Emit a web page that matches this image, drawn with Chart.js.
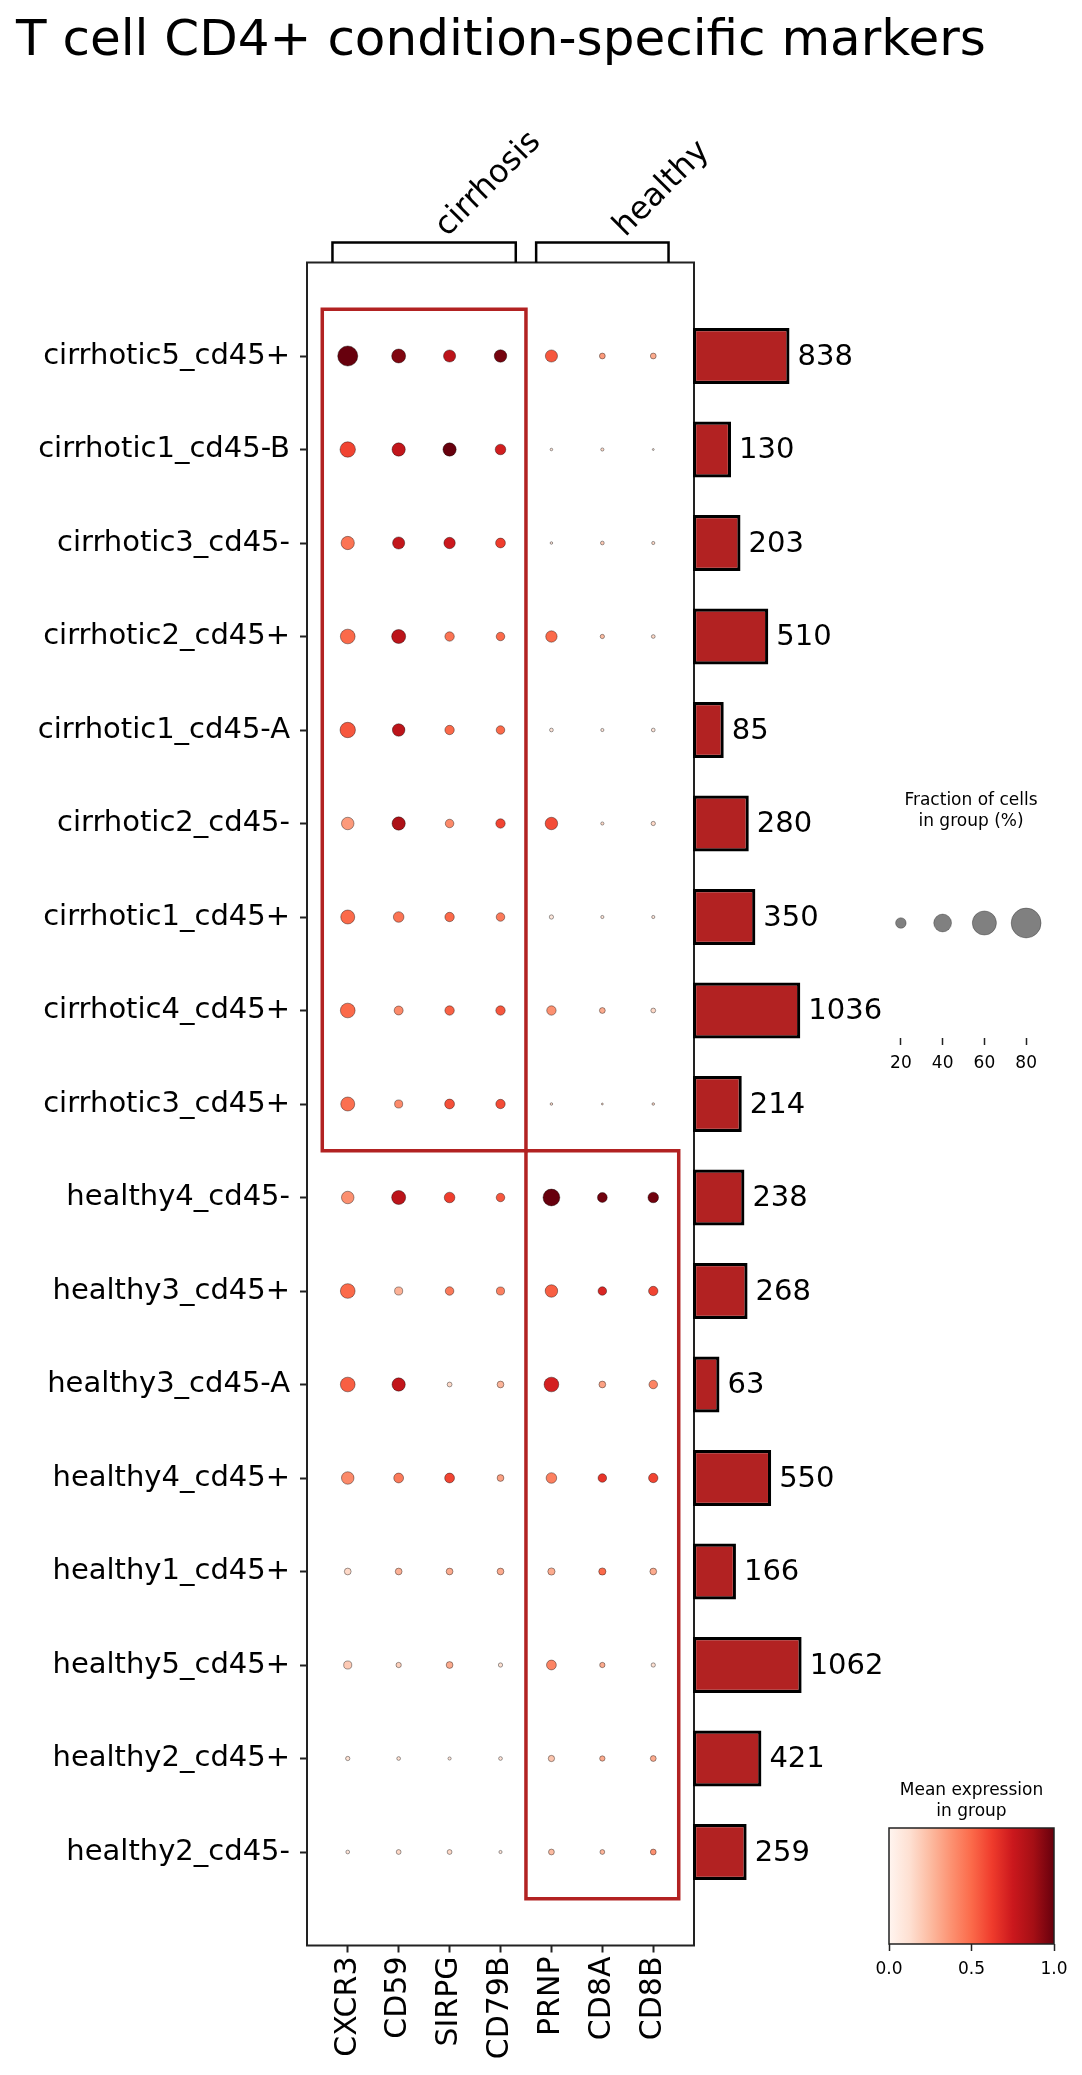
<!DOCTYPE html>
<html lang="en">
<head>
    <meta charset="UTF-8">
    <title>T cell CD4+ condition-specific markers</title>
    <style>
        body {
            margin: 0;
            background: #fff;
            font-family: "DejaVu Sans", sans-serif;
        }

        .page {
            position: relative;
            width: 1082px;
            height: 2075px;
        }

        .page canvas {
            position: absolute;
            left: 0;
            top: 0;
        }

        h1 {
            position: absolute;
            left: 16px;
            top: 13px;
            margin: 0;
            font-size: 50px;
            font-weight: normal;
            line-height: 50px;
            white-space: nowrap;
            color: #000;
        }
    </style>
</head>
<body>

<div class="page">
    <h1>T cell CD4+ condition-specific markers</h1>
    <canvas id="dots" width="1082" height="2075"></canvas>
    <canvas id="bars" width="1082" height="2075"></canvas>
    <canvas id="sizeLegend" width="1082" height="2075"></canvas>
    <canvas id="colorbar" width="1082" height="2075"></canvas>
</div>

<script src="https://cdn.jsdelivr.net/npm/chart.js"></script>
<script>
    // groups (rows), top to bottom
    const groups = [
        'cirrhotic5_cd45+', 'cirrhotic1_cd45-B', 'cirrhotic3_cd45-', 'cirrhotic2_cd45+',
        'cirrhotic1_cd45-A', 'cirrhotic2_cd45-', 'cirrhotic1_cd45+', 'cirrhotic4_cd45+',
        'cirrhotic3_cd45+', 'healthy4_cd45-', 'healthy3_cd45+', 'healthy3_cd45-A',
        'healthy4_cd45+', 'healthy1_cd45+', 'healthy5_cd45+', 'healthy2_cd45+', 'healthy2_cd45-'
    ];
    const genes = ['CXCR3', 'CD59', 'SIRPG', 'CD79B', 'PRNP', 'CD8A', 'CD8B'];
    const cellCounts = [838, 130, 203, 510, 85, 280, 350, 1036, 214, 238, 268, 63, 550, 166, 1062, 421, 259];

    // condition blocks: gene index range and group index range
    const conditions = ['cirrhosis', 'healthy'];
    const conditionGenes = [[0, 3], [4, 6]];
    const conditionGroups = [[0, 8], [9, 16]];

    // fraction of cells expressing (%), one row per group
    const fractionPct = [
        [47, 29, 24, 25, 24, 9, 9],
        [33, 27, 27, 20, 3, 4, 2],
        [27, 24, 22, 18, 3, 5, 4],
        [31, 29, 17, 15, 22, 6, 5],
        [33, 25, 17, 15, 5, 4, 5],
        [25, 27, 15, 17, 25, 4, 6],
        [29, 20, 17, 15, 6, 4, 4],
        [31, 16, 17, 17, 17, 9, 7],
        [29, 14, 18, 17, 3, 2, 3],
        [25, 29, 20, 15, 37, 18, 20],
        [31, 14, 15, 14, 25, 15, 17],
        [31, 27, 7, 11, 31, 11, 15],
        [25, 18, 18, 11, 20, 15, 17],
        [11, 11, 11, 11, 12, 12, 11],
        [14, 8, 11, 6, 18, 8, 6],
        [6, 5, 4, 5, 10, 8, 9],
        [5, 7, 7, 4, 9, 7, 9]
    ];

    // mean expression in group (scaled 0..1)
    const meanExpr = [
        [1.00, 0.95, 0.80, 0.97, 0.55, 0.35, 0.30],
        [0.60, 0.78, 1.00, 0.73, 0.10, 0.15, 0.10],
        [0.47, 0.78, 0.75, 0.62, 0.10, 0.20, 0.15],
        [0.50, 0.80, 0.47, 0.50, 0.50, 0.25, 0.15],
        [0.55, 0.80, 0.50, 0.50, 0.10, 0.10, 0.10],
        [0.35, 0.85, 0.40, 0.60, 0.58, 0.15, 0.15],
        [0.50, 0.47, 0.50, 0.45, 0.08, 0.10, 0.10],
        [0.50, 0.40, 0.52, 0.55, 0.38, 0.30, 0.15],
        [0.48, 0.40, 0.57, 0.58, 0.15, 0.15, 0.15],
        [0.38, 0.80, 0.62, 0.55, 1.00, 0.98, 0.98],
        [0.50, 0.28, 0.45, 0.43, 0.53, 0.70, 0.60],
        [0.53, 0.78, 0.15, 0.27, 0.72, 0.33, 0.42],
        [0.40, 0.45, 0.60, 0.33, 0.43, 0.65, 0.60],
        [0.15, 0.28, 0.30, 0.30, 0.30, 0.50, 0.30],
        [0.20, 0.18, 0.30, 0.12, 0.42, 0.30, 0.12],
        [0.12, 0.12, 0.10, 0.10, 0.22, 0.30, 0.30],
        [0.10, 0.15, 0.15, 0.10, 0.25, 0.27, 0.38]
    ];

    const sizeLegendPct = [20, 40, 60, 80];
    const colorbarTicks = [0, 0.5, 1];

    const FONT = '"DejaVu Sans", sans-serif';
    Chart.defaults.font.family = FONT;
    Chart.defaults.color = '#000';

    // matplotlib "Reds"
    const redsStops = ['#fff5f0', '#fee0d2', '#fcbba1', '#fc9272', '#fb6a4a', '#ef3b2c', '#cb181d', '#a50f15', '#67000d'];
    function hexRgb(h) {
        return [1, 3, 5].map(i => parseInt(h.slice(i, i + 2), 16));
    }
    function reds(t) {
        const p = Math.min(Math.max(t, 0), 1) * (redsStops.length - 1);
        const i = Math.min(Math.floor(p), redsStops.length - 2);
        const f = p - i;
        const a = hexRgb(redsStops[i]), b = hexRgb(redsStops[i + 1]);
        const c = a.map((v, k) => Math.round(v + (b[k] - v) * f));
        return `rgb(${c[0]}, ${c[1]}, ${c[2]})`;
    }

    // dot area grows with fraction^1.5, as in the scanpy dot plot
    const dotRadius = pct => 0.56 * Math.pow(pct, 0.75);

    // bar length axis with square-root spacing
    class SqrtScale extends Chart.LinearScale {
        getPixelForValue(value) {
            const a = Math.sqrt(Math.max(0, this.min));
            const b = Math.sqrt(this.max);
            return this.getPixelForDecimal((Math.sqrt(Math.max(0, value)) - a) / (b - a));
        }
        getValueForPixel(pixel) {
            const a = Math.sqrt(Math.max(0, this.min));
            const b = Math.sqrt(this.max);
            const s = a + this.getDecimalForPixel(pixel) * (b - a);
            return s * s;
        }
    }
    SqrtScale.id = 'sqrt';
    SqrtScale.defaults = Chart.LinearScale.defaults;
    Chart.register(SqrtScale);

    const tickGrid = {
        display: true,
        drawOnChartArea: false,
        drawTicks: true,
        tickLength: 7,
        tickWidth: 2,
        tickColor: '#222'
    };

    // ---------- dot plot ----------
    const dotPoints = [];
    const dotRadii = [];
    const dotColors = [];
    groups.forEach((g, r) => {
        genes.forEach((gene, c) => {
            dotPoints.push({ x: c, y: r });
            dotRadii.push(dotRadius(fractionPct[r][c]));
            dotColors.push(reds(meanExpr[r][c]));
        });
    });

    const dotDecor = {
        id: 'dotDecor',
        afterDatasetsDraw(chart) {
            const ctx = chart.ctx;
            const xs = chart.scales.x, ys = chart.scales.y;
            const { left, right, top, bottom } = chart.chartArea;
            ctx.save();

            // condition boxes
            ctx.strokeStyle = '#b22222';
            ctx.lineWidth = 3.5;
            conditions.forEach((name, k) => {
                const x0 = xs.getPixelForValue(conditionGenes[k][0] - 0.5);
                const x1 = xs.getPixelForValue(conditionGenes[k][1] + 0.5);
                const y0 = ys.getPixelForValue(conditionGroups[k][0] - 0.5);
                const y1 = ys.getPixelForValue(conditionGroups[k][1] + 0.5);
                ctx.strokeRect(x0, y0, x1 - x0, y1 - y0);
            });

            // frame
            ctx.strokeStyle = '#222';
            ctx.lineWidth = 2;
            ctx.strokeRect(left, top, right - left, bottom - top);

            // brackets + labels above the plot
            const yTop = top - 20;
            ctx.strokeStyle = '#000';
            ctx.lineWidth = 2.5;
            ctx.fillStyle = '#000';
            ctx.font = '32px ' + FONT;
            ctx.textAlign = 'left';
            ctx.textBaseline = 'alphabetic';
            conditions.forEach((name, k) => {
                const x0 = xs.getPixelForValue(conditionGenes[k][0] - 0.3);
                const x1 = xs.getPixelForValue(conditionGenes[k][1] + 0.3);
                ctx.beginPath();
                ctx.moveTo(x0, top);
                ctx.lineTo(x0, yTop);
                ctx.lineTo(x1, yTop);
                ctx.lineTo(x1, top);
                ctx.stroke();

                const xc = xs.getPixelForValue((conditionGenes[k][0] + conditionGenes[k][1]) / 2);
                ctx.save();
                ctx.translate(xc + 23, yTop - 5);
                ctx.rotate(-Math.PI / 4);
                ctx.fillText(name, 0, 0);
                ctx.restore();
            });
            ctx.restore();
        }
    };

    new Chart(document.getElementById('dots'), {
        type: 'scatter',
        data: {
            datasets: [{
                data: dotPoints,
                pointRadius: dotRadii,
                pointHoverRadius: dotRadii,
                pointBackgroundColor: dotColors,
                pointBorderColor: 'rgba(0, 0, 0, 0.55)',
                pointBorderWidth: 0.7
            }]
        },
        options: {
            responsive: false,
            animation: false,
            events: [],
            layout: { padding: { left: 0, right: 388, top: 262.5, bottom: 0 } },
            plugins: { legend: { display: false }, tooltip: { enabled: false } },
            scales: {
                x: {
                    type: 'linear',
                    min: -0.8,
                    max: 6.8,
                    afterBuildTicks: s => { s.ticks = genes.map((g, i) => ({ value: i })); },
                    afterFit: s => { s.height = 129.5; },
                    grid: tickGrid,
                    border: { display: false },
                    ticks: {
                        autoSkip: false,
                        minRotation: 90,
                        maxRotation: 90,
                        padding: 4,
                        font: { size: 30 },
                        callback: v => genes[v]
                    }
                },
                y: {
                    type: 'linear',
                    reverse: true,
                    min: -1,
                    max: 17,
                    afterBuildTicks: s => { s.ticks = groups.map((g, i) => ({ value: i })); },
                    afterFit: s => { s.width = 307; },
                    grid: tickGrid,
                    border: { display: false },
                    ticks: {
                        autoSkip: false,
                        padding: 10,
                        font: { size: 29 },
                        callback: v => groups[v]
                    }
                }
            }
        },
        plugins: [dotDecor]
    });

    // ---------- group size bars ----------
    const barLabels = {
        id: 'barLabels',
        afterDatasetsDraw(chart) {
            const ctx = chart.ctx;
            ctx.save();
            ctx.font = '29px ' + FONT;
            ctx.fillStyle = '#000';
            ctx.textAlign = 'left';
            ctx.textBaseline = 'middle';
            chart.getDatasetMeta(0).data.forEach((bar, i) => {
                ctx.fillText(String(cellCounts[i]), bar.x + 8, bar.y + 1);
            });
            ctx.restore();
        }
    };

    new Chart(document.getElementById('bars'), {
        type: 'bar',
        data: {
            datasets: [{
                data: cellCounts.map((n, i) => ({ x: n, y: i })),
                backgroundColor: '#b22222',
                borderColor: '#000',
                borderWidth: 3.2,
                borderSkipped: false,
                barPercentage: 0.6,
                categoryPercentage: 1
            }]
        },
        options: {
            indexAxis: 'y',
            responsive: false,
            animation: false,
            events: [],
            layout: { padding: { left: 693, right: 189, top: 262.5, bottom: 129.5 } },
            plugins: { legend: { display: false }, tooltip: { enabled: false } },
            scales: {
                x: { type: 'sqrt', min: 0, max: 3600, display: false },
                y: { type: 'linear', min: -1, max: 17, reverse: true, offset: false, display: false }
            }
        },
        plugins: [barLabels]
    });

    // ---------- dot size legend ----------
    const sizeTitle = {
        id: 'sizeTitle',
        afterDraw(chart) {
            const ctx = chart.ctx;
            ctx.save();
            ctx.font = '17px ' + FONT;
            ctx.fillStyle = '#000';
            ctx.textAlign = 'center';
            ctx.textBaseline = 'middle';
            ctx.fillText('Fraction of cells', 971, 801);
            ctx.fillText('in group (%)', 971, 822);
            ctx.restore();
        }
    };

    new Chart(document.getElementById('sizeLegend'), {
        type: 'scatter',
        data: {
            datasets: [{
                data: sizeLegendPct.map(p => ({ x: p, y: 0.5 })),
                pointRadius: sizeLegendPct.map(dotRadius),
                pointHoverRadius: sizeLegendPct.map(dotRadius),
                pointBackgroundColor: '#808080',
                pointBorderColor: 'rgba(0, 0, 0, 0.4)',
                pointBorderWidth: 0.7
            }]
        },
        options: {
            responsive: false,
            animation: false,
            events: [],
            layout: { padding: { left: 880, right: 35, top: 808, bottom: 997 } },
            plugins: { legend: { display: false }, tooltip: { enabled: false } },
            scales: {
                x: {
                    type: 'linear',
                    min: 10,
                    max: 90,
                    afterBuildTicks: s => { s.ticks = sizeLegendPct.map(p => ({ value: p })); },
                    afterFit: s => { s.height = 40; },
                    grid: Object.assign({}, tickGrid, { tickWidth: 1.5 }),
                    border: { display: false },
                    ticks: { padding: 8, font: { size: 17 }, maxRotation: 0 }
                },
                y: { min: 0, max: 1, display: false }
            }
        },
        plugins: [sizeTitle]
    });

    // ---------- colour bar ----------
    const colorbarDraw = {
        id: 'colorbarDraw',
        beforeDatasetsDraw(chart) {
            const ctx = chart.ctx;
            const { left, right, top, bottom } = chart.chartArea;
            ctx.save();
            const grad = ctx.createLinearGradient(left, 0, right, 0);
            redsStops.forEach((c, i) => grad.addColorStop(i / (redsStops.length - 1), c));
            ctx.fillStyle = grad;
            ctx.fillRect(left, top, right - left, bottom - top);
            ctx.strokeStyle = '#222';
            ctx.lineWidth = 1.5;
            ctx.strokeRect(left, top, right - left, bottom - top);

            ctx.font = '17px ' + FONT;
            ctx.fillStyle = '#000';
            ctx.textAlign = 'center';
            ctx.textBaseline = 'middle';
            ctx.fillText('Mean expression', (left + right) / 2, 1791);
            ctx.fillText('in group', (left + right) / 2, 1812);
            ctx.restore();
        }
    };

    new Chart(document.getElementById('colorbar'), {
        type: 'scatter',
        data: { datasets: [{ data: [] }] },
        options: {
            responsive: false,
            animation: false,
            events: [],
            layout: { padding: { left: 889, right: 28, top: 1828, bottom: 91 } },
            plugins: { legend: { display: false }, tooltip: { enabled: false } },
            scales: {
                x: {
                    type: 'linear',
                    min: 0,
                    max: 1,
                    afterBuildTicks: s => { s.ticks = colorbarTicks.map(v => ({ value: v })); },
                    afterFit: s => { s.height = 40; },
                    grid: Object.assign({}, tickGrid, { tickWidth: 1.5 }),
                    border: { display: false },
                    ticks: { padding: 8, font: { size: 17 }, maxRotation: 0, callback: v => v.toFixed(1) }
                },
                y: { min: 0, max: 1, display: false }
            }
        },
        plugins: [colorbarDraw]
    });
</script>

</body>
</html>
